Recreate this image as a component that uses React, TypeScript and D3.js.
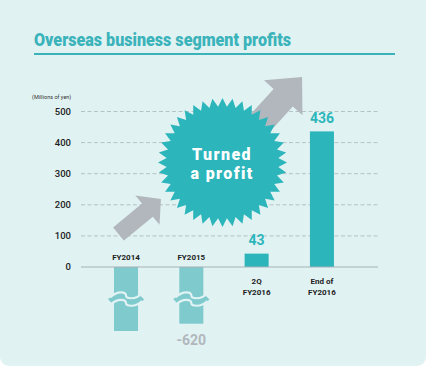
import React from 'react';
import * as d3 from 'd3';

// chart data
const categories = ['FY2014', 'FY2015', '2Q FY2016', 'End of FY2016'];
const profits = [-700, -620, 43, 436];
const valueLabels = ['', '-620', '43', '436'];
const yTicks = [0, 100, 200, 300, 400, 500];

const BG = '#e1f2f3';
const TEAL = '#2cb6bb';
const TEAL_LIGHT = '#7fcacd';
const GREY = '#b1b7bc';

// block arrow polygon in local coordinates, then rotated/translated
const arrowPoints = (x: number, y: number, angle: number, L: number, w: number, h: number, hl: number) => {
  const pts: [number, number][] = [
    [0, -w], [L - hl, -w], [L - hl, -h], [L, 0], [L - hl, h], [L - hl, w], [0, w],
  ];
  const a = (angle * Math.PI) / 180;
  return pts
    .map(([px, py]) => [x + px * Math.cos(a) - py * Math.sin(a), y + px * Math.sin(a) + py * Math.cos(a)].join(','))
    .join(' ');
};

const starPath = (cx: number, cy: number, rOut: number, rIn: number, n: number) => {
  const pts: [number, number][] = [];
  for (let i = 0; i < n * 2; i++) {
    const r = i % 2 === 0 ? rOut : rIn;
    const a = (Math.PI * i) / n - Math.PI / 2;
    pts.push([cx + r * Math.cos(a), cy + r * Math.sin(a)]);
  }
  return d3.line()(pts) + 'Z';
};

// "~" shaped wave used for the axis break
const wave = (x0: number, w: number, yy: number) =>
  `M${x0 - 4},${yy + 2} C${x0 + 5},${yy - 6} ${x0 + 12},${yy - 3} ${x0 + w / 2},${yy} S${x0 + w - 3},${yy + 5} ${x0 + w + 4},${yy - 2}`;

const App = () => {
  const width = 427;
  const height = 367;

  const x = d3.scaleBand()
    .domain(categories)
    .range([93.35, 354.6])
    .paddingInner(0.632)
    .paddingOuter(0.316);

  const y = d3.scaleLinear().domain([0, 500]).range([267, 111.5]);
  // broken axis below zero
  const yNeg = d3.scaleLinear().domain([0, -700]).range([267, 331]);

  const barY = (v: number) => (v >= 0 ? y(v) : y(0));
  const barH = (v: number) => (v >= 0 ? y(0) - y(v) : yNeg(v) - y(0));

  const font = 'Roboto, "DejaVu Sans", sans-serif';

  return (
    <svg width={width} height={height} style={{ position: 'absolute', left: 0, top: 0 }} fontFamily={font}>
      <rect x={0} y={0} width={width} height={height} fill="#ffffff" />
      <rect x={0} y={-10} width={426} height={376} rx={9} fill={BG} />

      {/* title */}
      <text x={34} y={46} fill="#3ab3ba" fontSize={17.5} fontWeight={900} textLength={257} lengthAdjust="spacingAndGlyphs">
        Overseas business segment profits
      </text>
      <rect x={34} y={53} width={361} height={2} fill="#3ab3ba" />

      <text x={32} y={99} fontSize={5.5} fill="#333">(Millions of yen)</text>

      {/* grid + y axis */}
      {yTicks.map((t) => (
        <g key={t}>
          {t > 0 && (
            <line x1={81} x2={378} y1={y(t)} y2={y(t)} stroke="#a9b6b9" strokeWidth={0.8} strokeDasharray="4,2.5" />
          )}
          <text x={71} y={y(t)} dy="0.35em" textAnchor="end" fontSize={9.5} fill="#222" fontWeight={500}>
            {t}
          </text>
        </g>
      ))}

      {/* arrows */}
      <polygon points={arrowPoints(222, 165, -47.7, 119, 13, 26, 28)} fill={GREY} />
      <polygon points={arrowPoints(118.5, 234, -39.5, 55, 8.5, 19, 17.5)} fill={GREY} />

      {/* bars */}
      {categories.map((c, i) => {
        const v = profits[i];
        const bx = x(c)!;
        const bw = x.bandwidth();
        return (
          <g key={c}>
            <rect x={bx} y={barY(v)} width={bw} height={barH(v)} fill={v < 0 ? TEAL_LIGHT : TEAL} />
            {v < 0 && (
              <g>
                <path d={wave(bx, bw, 299.3)} fill="none" stroke={TEAL_LIGHT} strokeWidth={6} />
                <path d={wave(bx, bw, 295.5)} fill="none" stroke={BG} strokeWidth={2.2} />
                <path d={wave(bx, bw, 303)} fill="none" stroke={BG} strokeWidth={2.2} />
              </g>
            )}
          </g>
        );
      })}

      <line x1={81} x2={378} y1={y(0)} y2={y(0)} stroke="#a6b2b5" strokeWidth={1} />

      {/* category labels */}
      {categories.map((c, i) => {
        const cx = x(c)! + x.bandwidth() / 2;
        const lines = c === '2Q FY2016' ? ['2Q', 'FY2016'] : c === 'End of FY2016' ? ['End of', 'FY2016'] : [c];
        const above = profits[i] < 0;
        return lines.map((ln, j) => (
          <text
            key={c + j}
            x={cx}
            y={above ? 260 : 283.5 + j * 11}
            textAnchor="middle"
            fontSize={8}
            fontWeight="bold"
            fill="#222"
          >
            {ln}
          </text>
        ));
      })}

      {/* value labels */}
      {categories.map((c, i) => {
        const v = profits[i];
        if (!valueLabels[i]) return null;
        const cx = x(c)! + x.bandwidth() / 2;
        return (
          <text
            key={'v' + c}
            x={cx}
            y={v >= 0 ? y(v) - 8.5 : yNeg(v) + 21.5}
            textAnchor="middle"
            fontSize={14}
            fontWeight="bold"
            fill={v >= 0 ? TEAL : GREY}
          >
            {valueLabels[i]}
          </text>
        );
      })}

      {/* starburst */}
      <path d={starPath(222.5, 162.5, 64.5, 56, 40)} fill={TEAL} />
      <text x={222} y={160} textAnchor="middle" fontSize={16} fontWeight={900} fill="#ffffff" letterSpacing={1.4}>
        Turned
      </text>
      <text x={222} y={179} textAnchor="middle" fontSize={16} fontWeight={900} fill="#ffffff" letterSpacing={1.4}>
        a profit
      </text>
    </svg>
  );
};

export default App;
